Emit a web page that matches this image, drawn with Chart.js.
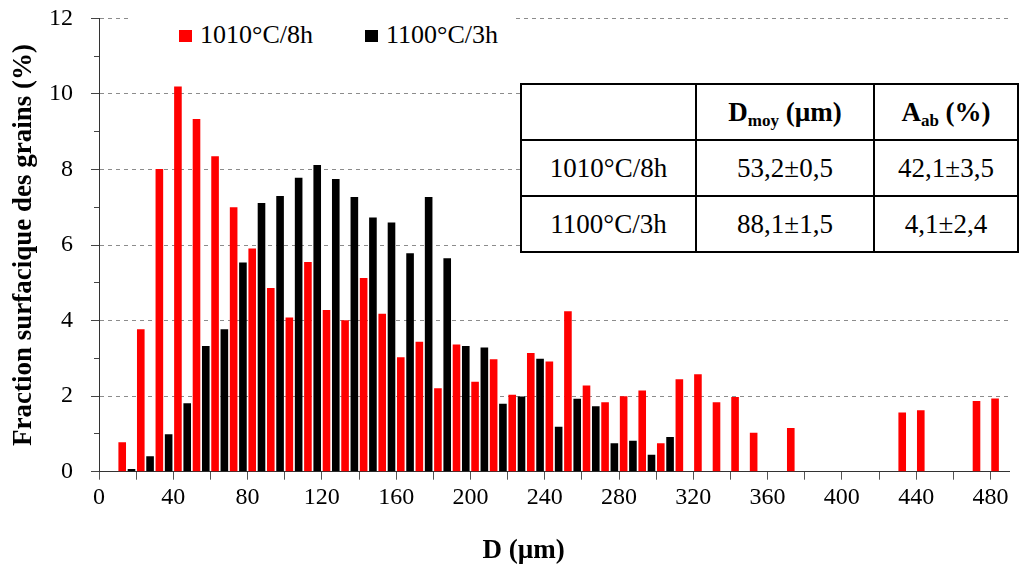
<!DOCTYPE html>
<html>
<head>
<meta charset="utf-8">
<script src="https://cdn.jsdelivr.net/npm/chart.js@4.4.1/dist/chart.umd.min.js"></script>
<style>
  body { margin: 0; background: #fff; }
  #wrap { position: relative; width: 1022px; height: 569px; }
  #legend { position: absolute; left: 128px; top: 15px; width: 384px; height: 40px; background: #fff;
            font: 26px "Liberation Serif", serif; line-height: 40px; white-space: nowrap; }
  #legend span.box { display: inline-block; width: 13px; height: 12px; margin-right: 8px; vertical-align: 1px; }
  #legend span.item { display: inline-block; }
  #stats { position: absolute; left: 520px; top: 83px; width: 497px; height: 163px; border-collapse: collapse;
           table-layout: fixed; background: #fff; font: 27px "Liberation Serif", serif; color: #000; }
  #stats td, #stats th { border: 2px solid #000; text-align: center; padding: 0; height: 54px; }
  #stats th { font-weight: bold; }
  #stats sub { font-size: 17px; vertical-align: -5px; line-height: 0; }
</style>
</head>
<body>
<div id="wrap">
  <canvas id="myChart1" width="1022" height="569"></canvas>
  <div id="legend"></div>
  <table id="stats">
    <colgroup><col style="width:175px"><col style="width:178px"><col style="width:144px"></colgroup>
    <tbody id="statsBody"></tbody>
  </table>
</div>
<script>
// bin centres of the grain size classes (µm)
var binCenters = [15, 25, 35, 45, 55, 65, 75, 85, 95, 105, 115, 125, 135, 145, 155, 165,
                  175, 185, 195, 205, 215, 225, 235, 245, 255, 265, 275, 285, 295, 305, 315, 325,
                  335, 345, 355, 365, 375, 385, 395, 405, 415, 425, 435, 445, 455, 465, 475, 485];
var seriesNames = ['1010°C/8h', '1100°C/3h'];
var colors = ['#ff0000', '#000000'];
var frac1010 = [0.78, 3.77, 8.01, 10.2, 9.34, 8.35, 7.0, 5.91, 4.86, 4.08, 5.55, 4.28, 4.01, 5.13, 4.18, 3.03,
                3.44, 2.21, 3.37, 2.38, 2.98, 2.04, 3.14, 2.92, 4.25, 2.28, 1.84, 2.0, 2.15, 0.75, 2.45, 2.58,
                1.84, 1.98, 1.03, 0, 1.16, 0, 0, 0, 0, 0, 1.57, 1.63, 0, 0, 1.87, 1.94];
var frac1100 = [0.07, 0.41, 0.99, 1.81, 3.33, 3.77, 5.54, 7.11, 7.30, 7.78, 8.12, 7.75, 7.27, 6.73, 6.60, 5.78,
                7.27, 5.65, 3.33, 3.29, 1.80, 1.99, 2.99, 1.19, 1.93, 1.73, 0.75, 0.82, 0.45, 0.92];

var tableHead = ['', 'D<sub>moy</sub> (µm)', 'A<sub>ab</sub> (%)'];
var tableRows = [
    ['1010°C/8h', '53,2±0,5', '42,1±3,5'],
    ['1100°C/3h', '88,1±1,5', '4,1±2,4']
];

var serif = '"Liberation Serif", "Times New Roman", serif';

var ctx = document.getElementById('myChart1').getContext('2d');
var thisChart = new Chart(ctx, {
    type: 'bar',
    data: {
        labels: binCenters,
        datasets: [
            { label: seriesNames[0], data: frac1010, backgroundColor: colors[0], borderWidth: 0 },
            { label: seriesNames[1], data: frac1100, backgroundColor: colors[1], borderWidth: 0 }
        ]
    },
    options: {
        responsive: false,
        animation: false,
        categoryPercentage: 1,
        barPercentage: 0.82,
        layout: { padding: { left: 10.5, right: 13, top: 2, bottom: 1 } },
        plugins: { legend: { display: false }, tooltip: { enabled: false } },
        scales: {
            x: {
                type: 'linear',
                min: 0,
                max: 490,
                offset: false,
                grid: { offset: false, drawOnChartArea: false, drawTicks: true, tickLength: 8, tickColor: '#555' },
                border: { color: '#333', width: 1 },
                ticks: {
                    stepSize: 20,
                    includeBounds: false,
                    autoSkip: false,
                    maxRotation: 0,
                    padding: 4,
                    color: '#000',
                    font: { family: serif, size: 24 },
                    callback: function (v) { return v % 40 === 0 ? v : ''; }
                },
                title: {
                    display: true,
                    // trailing no-break spaces move the centred title a little to the left, as in the source
                    text: 'D (µm)' + '\u00a0'.repeat(9),
                    color: '#000',
                    font: { family: serif, size: 27, weight: 'bold', lineHeight: 1 },
                    padding: { top: 21.5, bottom: 3 }
                }
            },
            y: {
                min: 0,
                max: 12,
                grid: {
                    drawTicks: true,
                    tickLength: 22,
                    color: function (c) { return c.tick && c.tick.value % 2 === 0 && c.tick.value > 0 ? '#8c8c8c' : 'transparent'; },
                    tickColor: '#444',
                    // only the part next to the axis is visible: long marks on labelled values, short ones between
                    tickBorderDash: function (c) { return c.tick && c.tick.value % 2 !== 0 ? [0, 17, 5, 40] : [0, 14, 8, 40]; }
                },
                border: { color: '#333', width: 1, dash: [4, 4] },
                ticks: {
                    stepSize: 1,
                    autoSkip: false,
                    padding: 4,
                    color: '#000',
                    font: { family: serif, size: 24 },
                    callback: function (v) { return v % 2 === 0 ? v : ''; }
                },
                title: {
                    display: true,
                    text: 'Fraction surfacique des grains (%)',
                    color: '#000',
                    font: { family: serif, size: 27, weight: 'bold', lineHeight: 1 },
                    padding: { top: 0, bottom: 7.5 }
                }
            }
        }
    }
});

// legend drawn from the datasets
var legendEl = document.getElementById('legend');
thisChart.data.datasets.forEach(function (ds, i) {
    var item = document.createElement('span');
    item.className = 'item';
    item.style.marginLeft = i === 0 ? '51px' : '52px';
    item.innerHTML = '<span class="box" style="background:' + ds.backgroundColor + '"></span>' + ds.label;
    legendEl.appendChild(item);
});

// results table
var body = document.getElementById('statsBody');
var html = '<tr>' + tableHead.map(function (h) { return '<th>' + h + '</th>'; }).join('') + '</tr>';
tableRows.forEach(function (r) {
    html += '<tr>' + r.map(function (c) { return '<td>' + c + '</td>'; }).join('') + '</tr>';
});
body.innerHTML = html;
</script>
</body>
</html>
